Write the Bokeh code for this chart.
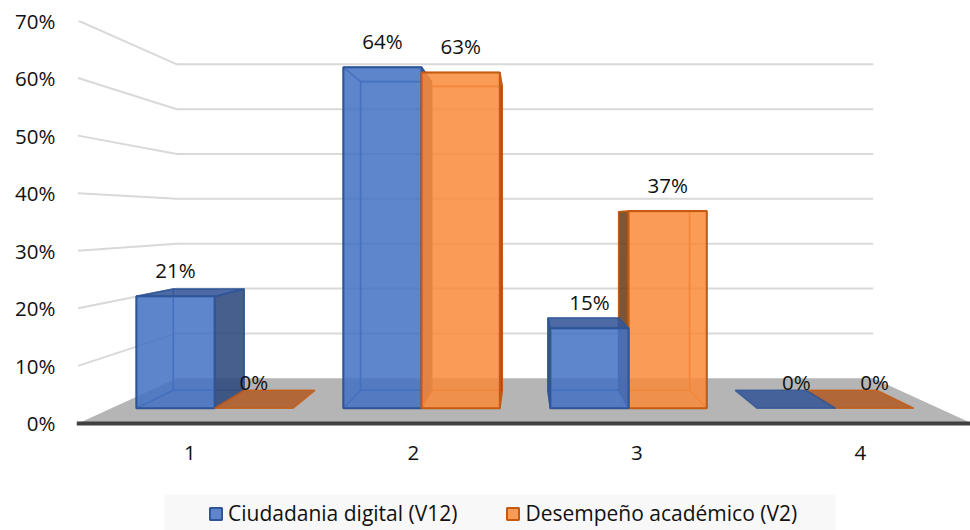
from bokeh.embed import file_html
from bokeh.resources import INLINE
from bokeh.plotting import figure
from bokeh.core.properties import value
from bokeh.models import BoxAnnotation, FixedTicker, Legend, LegendItem, PrintfTickFormatter

categories = [1, 2, 3, 4]
series_names = ["Ciudadania digital (V12)", "Desempeño académico (V2)"]
ciudadania = [21, 64, 15, 0]
desempeno = [0, 63, 37, 0]
y_ticks = [0, 10, 20, 30, 40, 50, 60, 70]

FONT = "Open Sans"
FS = "20.5px"

# perspective of the 3-D box
CX, CV = 2.5, 35.54
S_WALL, S_FRONT, S_BACK = 0.779, 0.926, 0.838
BAR = 0.378


def pr(i, v, s):
    return CX + (i - CX) * s, CV + (v - CV) * s


def poly(*pts):
    xy = [pr(*q) for q in pts]
    return [a for a, _ in xy], [b for _, b in xy]


p = figure(width=970, height=530, output_backend="svg", toolbar_location=None,
           x_range=(0.493, 4.493), y_range=(-18.6, 70),
           min_border_left=76, min_border_right=0, min_border_top=20, min_border_bottom=0)
p.outline_line_color = None
p.grid.visible = False
p.background_fill_color = "white"

p.yaxis.ticker = FixedTicker(ticks=y_ticks)
p.yaxis.formatter = PrintfTickFormatter(format="%d%%")
p.yaxis.axis_line_color = None
p.yaxis.major_tick_line_color = None
p.yaxis.minor_tick_line_color = None
p.yaxis.major_tick_out = 0
p.yaxis.major_label_standoff = 21
p.xaxis.fixed_location = 0
p.xaxis.ticker = FixedTicker(ticks=categories)
p.xaxis.axis_line_color = "#404040"
p.xaxis.axis_line_width = 4
p.xaxis.major_tick_line_color = None
p.xaxis.minor_tick_line_color = None
p.xaxis.major_tick_out = 0
p.xaxis.major_label_standoff = 23
for ax in (p.xaxis, p.yaxis):
    ax.major_label_text_font = FONT
    ax.major_label_text_font_size = FS
    ax.major_label_text_color = "#111111"

# legend panel
p.add_layout(BoxAnnotation(left=164, right=835, top=494, bottom=530,
                           left_units="canvas", right_units="canvas",
                           top_units="canvas", bottom_units="canvas",
                           fill_color="#f8f8f8", fill_alpha=1, line_color=None, level="underlay"))

# walls' gridlines
for t in y_ticks[1:]:
    xs, ys = poly((0.5, t, 1), (0.5, t, S_WALL), (4.5, t, S_WALL))
    p.line(xs, ys, line_color="#d9d9d9", line_width=2)

# floor
xs, ys = poly((0.5, 0, 1), (0.5, 0, S_WALL), (4.5, 0, S_WALL), (4.5, 0, 1))
p.patch(xs, ys, fill_color="#b5b5b5", line_color=None)

STYLE = [
    dict(front="#4472C4", side="#2f4a7c", top="#355697", edge="#2F5597"),
    dict(front="#F98B3C", side="#6f3d17", top="#b25c27", edge="#C55A11"),
]


def face(xs, ys, color, alpha, edge, edge_alpha=0.55, lw=1.6):
    return p.patch(xs, ys, fill_color=color, fill_alpha=alpha,
                   line_color=edge, line_alpha=edge_alpha, line_width=lw)


def draw_bar(x0, x1, v, st):
    e = st["edge"]
    if v > 0:
        xs, ys = poly((x0, 0, S_BACK), (x1, 0, S_BACK), (x1, v, S_BACK), (x0, v, S_BACK))
        face(xs, ys, st["front"], 0.08, e)
        xs, ys = poly((x0, 0, S_FRONT), (x1, 0, S_FRONT), (x1, 0, S_BACK), (x0, 0, S_BACK))
        face(xs, ys, st["front"], 0.08, e)
        for xe in (x0, x1):
            xs, ys = poly((xe, 0, S_FRONT), (xe, v, S_FRONT), (xe, v, S_BACK), (xe, 0, S_BACK))
            outside = (xe == x1 and xe < CX) or (xe == x0 and xe > CX)
            if outside:
                face(xs, ys, st["side"], 0.88, e, 0.9)
            else:
                face(xs, ys, st["front"], 0.1, e)
    xs, ys = poly((x0, v, S_FRONT), (x1, v, S_FRONT), (x1, v, S_BACK), (x0, v, S_BACK))
    if v < CV:
        face(xs, ys, st["top"], 0.88, e, 0.8)
    else:
        face(xs, ys, st["front"], 0.1, e)
    if v > 0:
        xs, ys = poly((x0, 0, S_FRONT), (x1, 0, S_FRONT), (x1, v, S_FRONT), (x0, v, S_FRONT))
        return face(xs, ys, st["front"], 0.85, e, 1, 2)
    return None


fronts = {}
for k, cat in enumerate(categories):
    bars = [(0, cat - BAR, cat, ciudadania[k]), (1, cat, cat + BAR, desempeno[k])]
    bars.sort(key=lambda b: -abs((b[1] + b[2]) / 2 - CX))
    for sr, x0, x1, v in bars:
        r = draw_bar(x0, x1, v, STYLE[sr])
        if r is not None and sr not in fronts:
            fronts[sr] = r

# value labels
for k, cat in enumerate(categories):
    for off, v in ((-BAR / 2, ciudadania[k]), (BAR / 2, desempeno[k])):
        lx, ly = pr(cat + off, v, S_FRONT)
        p.text([lx], [ly], text=[f"{v}%"], text_font=value(FONT), text_font_size=FS,
               text_color="#111111", text_align="center", text_baseline="middle", y_offset=-26.5)

legend = Legend(items=[LegendItem(label=series_names[i], renderers=[fronts[i]]) for i in range(2)],
                orientation="horizontal", location=(132, 3),
                background_fill_alpha=0, border_line_color=None,
                glyph_width=15, glyph_height=15, label_standoff=5, spacing=48, padding=6,
                label_text_font=FONT, label_text_font_size="21px", label_text_color="#111111")
p.add_layout(legend, "center")

open("out.html", "w").write(file_html(p, INLINE))
